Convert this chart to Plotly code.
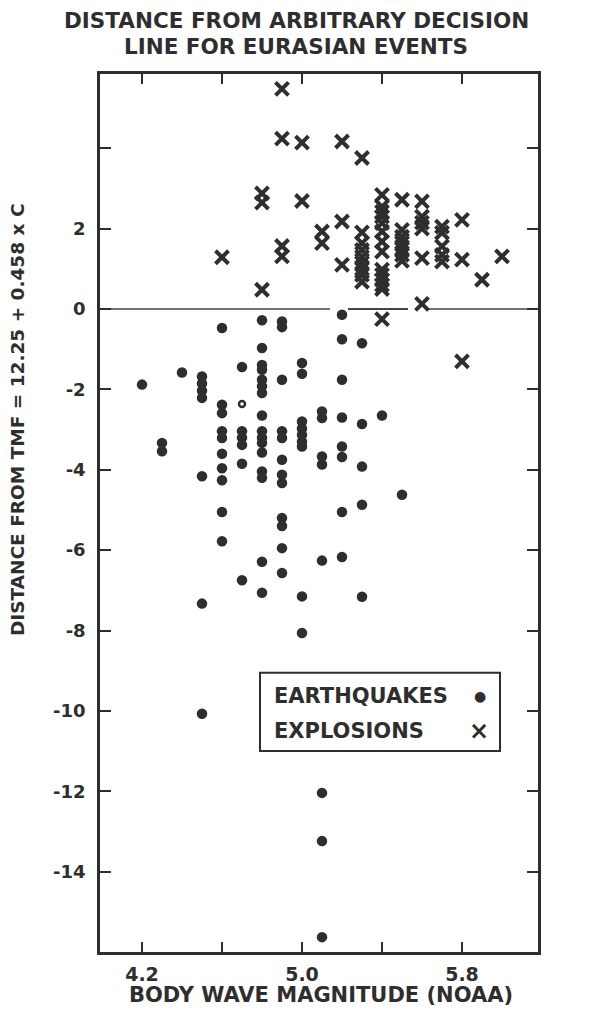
import plotly.graph_objects as go

# ---- data ----
eq_x = ([4.2] + [4.3]*2 + [4.4] + [4.5]*7 + [4.6]*10 + [4.7]*6 + [4.8]*16 + [4.9]*12 +
        [5.0]*9 + [5.1]*8 + [5.2]*8 + [5.3]*5 + [5.4] + [5.5])
eq_y = [-1.88,
        -3.33, -3.54,
        -1.58,
        -1.68, -1.85, -2.03, -2.21, -4.16, -7.33, -10.07,
        -0.47, -2.38, -2.59, -3.04, -3.21, -3.60, -3.96, -4.26, -5.05, -5.78,
        -1.44, -3.04, -3.20, -3.38, -3.85, -6.75,
        -0.28, -0.97, -1.39, -1.51, -1.76, -1.92, -2.09, -2.65, -3.04, -3.20, -3.33, -3.57, -4.04, -4.20, -6.29, -7.06,
        -0.31, -0.45, -1.76, -3.04, -3.21, -3.75, -4.12, -4.33, -5.20, -5.40, -5.95, -6.57,
        -1.34, -1.61, -2.80, -2.97, -3.13, -3.30, -3.42, -7.15, -8.06,
        -2.55, -2.71, -3.67, -3.87, -6.26, -12.04, -13.24, -15.63,
        -0.14, -0.75, -1.76, -2.70, -3.42, -3.68, -5.05, -6.17,
        -0.85, -2.86, -3.92, -4.87, -7.16,
        -2.65,
        -4.62]

open_x = [4.7]
open_y = [-2.36]

ex_x = ([4.6] + [4.8]*3 + [4.9]*4 + [5.0]*2 + [5.1]*2 + [5.2]*3 + [5.3]*9 + [5.4]*14 +
        [5.5]*7 + [5.6]*6 + [5.7]*5 + [5.8]*3 + [5.9] + [6.0])
ex_y = [1.29,
        2.88, 2.65, 0.48,
        5.48, 4.24, 1.57, 1.31,
        4.14, 2.69,
        1.93, 1.64,
        4.17, 2.18, 1.10,
        3.76, 1.91, 1.64, 1.47, 1.30, 1.15, 1.00, 0.85, 0.68,
        2.84, 2.55, 2.42, 2.30, 2.14, 1.93, 1.68, 1.43, 0.98, 0.85, 0.72, 0.60, 0.50, -0.25,
        2.72, 1.97, 1.80, 1.65, 1.50, 1.35, 1.20,
        2.68, 2.30, 2.15, 2.00, 1.27, 0.13,
        2.05, 1.90, 1.56, 1.35, 1.18,
        2.22, 1.23, -1.30,
        0.73,
        1.31]

x_ticks = [4.2, 4.6, 5.0, 5.4, 5.8]
x_ticktext = ["4.2", "", "5.0", "", "5.8"]
y_ticks = [-14, -12, -10, -8, -6, -4, -2, 0, 2, 4]
y_ticktext = ["-14", "-12", "-10", "-8", "-6", "-4", "-2", "0", "2", ""]

INK = "#2e2e2e"
FONT = "DejaVu Sans"

fig = go.Figure()
fig.add_trace(go.Scatter(x=eq_x, y=eq_y, mode="markers", name="EARTHQUAKES",
                         marker=dict(symbol="circle", size=10.5, color=INK, line=dict(width=0))))
fig.add_trace(go.Scatter(x=open_x, y=open_y, mode="markers", showlegend=False,
                         marker=dict(symbol="circle-open", size=6, color=INK, line=dict(width=2.5, color=INK))))
fig.add_trace(go.Scatter(x=ex_x, y=ex_y, mode="markers", name="EXPLOSIONS",
                         marker=dict(symbol="x-thin", size=13, color=INK, line=dict(width=4, color=INK))))

# zero decision line (drawn in segments as in the original)
for x0, x1, w in [(3.99, 5.14, 1.5), (5.23, 5.53, 2.0), (5.62, 6.18, 1.5)]:
    fig.add_shape(type="line", xref="x", yref="y", x0=x0, x1=x1, y0=0, y1=0,
                  line=dict(color="#444", width=w), layer="below")

# legend box
fig.add_shape(type="rect", xref="x", yref="y", x0=4.79, x1=5.99, y0=-11.0, y1=-9.05,
              line=dict(color=INK, width=2), fillcolor="white")
fig.add_annotation(x=4.85, y=-9.62, xref="x", yref="y", text="EARTHQUAKES", showarrow=False,
                   xanchor="left", yanchor="middle", font=dict(family=FONT, size=21, color=INK, weight="bold"))
fig.add_annotation(x=5.89, y=-9.62, xref="x", yref="y", text="●", showarrow=False,
                   xanchor="center", yanchor="middle", font=dict(family=FONT, size=14, color=INK))
fig.add_annotation(x=4.85, y=-10.5, xref="x", yref="y", text="EXPLOSIONS", showarrow=False,
                   xanchor="left", yanchor="middle", font=dict(family=FONT, size=21, color=INK, weight="bold"))
fig.add_annotation(x=5.885, y=-10.5, xref="x", yref="y", text="×", showarrow=False,
                   xanchor="center", yanchor="middle", font=dict(family=FONT, size=24, color=INK, weight="bold"))

# y axis title
fig.add_annotation(x=-0.187, y=0.606, xref="paper", yref="paper",
                   text="DISTANCE FROM TMF = 12.25 + 0.458 x C", textangle=-90, showarrow=False,
                   xanchor="center", yanchor="middle", font=dict(family=FONT, size=18.5, color=INK, weight="bold"))

# x axis title
fig.add_annotation(x=0.5046, y=-0.049, xref="paper", yref="paper",
                   text="BODY WAVE MAGNITUDE (NOAA)", showarrow=False,
                   xanchor="center", yanchor="middle", font=dict(family=FONT, size=21, color=INK, weight="bold"))

# chart title (two lines)
fig.add_annotation(x=0.4475, y=1.0604, xref="paper", yref="paper",
                   text="DISTANCE FROM ARBITRARY DECISION", showarrow=False,
                   xanchor="center", yanchor="middle", font=dict(family=FONT, size=21.5, color=INK, weight="bold"))
fig.add_annotation(x=0.4475, y=1.0315, xref="paper", yref="paper",
                   text="LINE FOR EURASIAN EVENTS", showarrow=False,
                   xanchor="center", yanchor="middle", font=dict(family=FONT, size=21.5, color=INK, weight="bold"))

fig.update_layout(
    width=591, height=1012,
    margin=dict(l=92, r=61, t=66, b=68),
    paper_bgcolor="white", plot_bgcolor="white",
    showlegend=False,
    xaxis=dict(range=[3.99, 6.18], tickvals=x_ticks, ticktext=x_ticktext,
               ticks="inside", ticklen=10, tickwidth=2, tickcolor=INK,
               showline=True, linewidth=2.5, linecolor=INK, mirror="ticks",
               showgrid=False, zeroline=False,
               tickfont=dict(family=FONT, size=19, color=INK, weight="bold"),
               ticklabelstandoff=3),
    yaxis=dict(range=[-16.0, 5.85], tickvals=y_ticks, ticktext=y_ticktext,
               ticks="inside", ticklen=11, tickwidth=2, tickcolor=INK,
               showline=True, linewidth=2.5, linecolor=INK, mirror="ticks",
               showgrid=False, zeroline=False,
               tickfont=dict(family=FONT, size=18, color=INK, weight="bold"),
               ticklabelstandoff=8),
)

fig.write_html("out.html")
